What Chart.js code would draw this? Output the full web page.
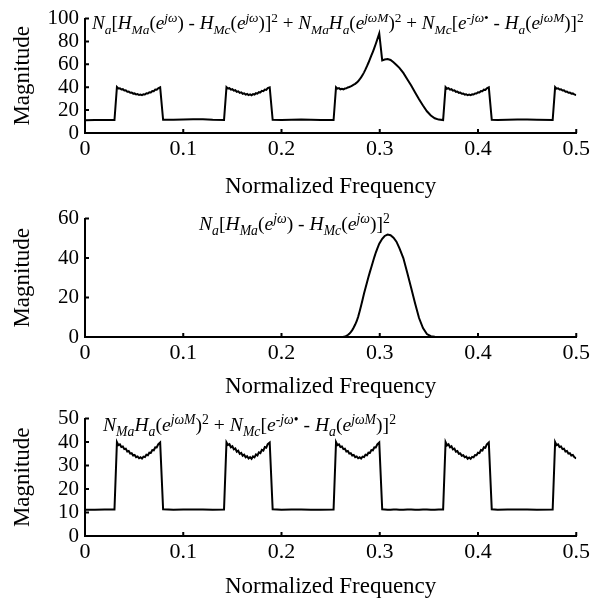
<!DOCTYPE html>
<html>
<head>
<meta charset="utf-8">
<script src="https://cdn.jsdelivr.net/npm/chart.js@4.4.1/dist/chart.umd.min.js"></script>
<style>
  html, body { margin: 0; padding: 0; background: #fff; }
  #wrap { position: relative; width: 593px; height: 601px; overflow: hidden; }
  #wrap canvas { position: absolute; left: 0; }
  .eq { position: absolute; font-family: 'Liberation Serif', 'Times New Roman', serif; font-size: 19.6px;
        color: #000; white-space: nowrap; line-height: 1; }
  #eq1 { font-size: 19.1px; }
  .eq sub, .eq sup { font-size: 70%; line-height: 0; position: relative; vertical-align: baseline; }
  .eq sub { top: 0.38em; }
  .eq sup { top: -0.5em; }
</style>
</head>
<body>
<div id="wrap">
  <canvas id="c1" width="593" height="201" style="top:0px"></canvas>
  <canvas id="c2" width="593" height="201" style="top:200px"></canvas>
  <canvas id="c3" width="593" height="201" style="top:400px"></canvas>

  <div class="eq" id="eq1" style="left:92px; top:13px;"><i>N</i><sub><i>a</i></sub>[<i>H</i><sub><i>Ma</i></sub>(<i>e</i><sup><i>jω</i></sup>) - <i>H</i><sub><i>Mc</i></sub>(<i>e</i><sup><i>jω</i></sup>)]<sup>2</sup> + <i>N</i><sub><i>Ma</i></sub><i>H</i><sub><i>a</i></sub>(<i>e</i><sup><i>jωM</i></sup>)<sup>2</sup> + <i>N</i><sub><i>Mc</i></sub>[<i>e</i><sup><i>-jω</i>•</sup> - <i>H</i><sub><i>a</i></sub>(<i>e</i><sup><i>jωM</i></sup>)]<sup>2</sup></div>
  <div class="eq" id="eq2" style="left:199px; top:214px;"><i>N</i><sub><i>a</i></sub>[<i>H</i><sub><i>Ma</i></sub>(<i>e</i><sup><i>jω</i></sup>) - <i>H</i><sub><i>Mc</i></sub>(<i>e</i><sup><i>jω</i></sup>)]<sup>2</sup></div>
  <div class="eq" id="eq3" style="left:103px; top:415px;"><i>N</i><sub><i>Ma</i></sub><i>H</i><sub><i>a</i></sub>(<i>e</i><sup><i>jωM</i></sup>)<sup>2</sup> + <i>N</i><sub><i>Mc</i></sub>[<i>e</i><sup><i>-jω</i>•</sup> - <i>H</i><sub><i>a</i></sub>(<i>e</i><sup><i>jωM</i></sup>)]<sup>2</sup></div>
</div>

<script>
// normalized frequency grid shared by the top and bottom panels
const freq = [
  0, 0.010, 0.020, 0.030,
  0.0325, 0.034, 0.0355, 0.037, 0.0385, 0.040, 0.0415, 0.043, 0.0445, 0.046, 0.0475, 0.049, 0.0505, 0.052, 0.0535, 0.055, 0.0565, 0.058, 0.0595, 0.061, 0.0625, 0.064, 0.0655, 0.067, 0.0685, 0.070, 0.0715, 0.073, 0.0745, 0.0765, 0.0795,
  0.090, 0.100, 0.110, 0.120, 0.130, 0.1415,
  0.144, 0.1455, 0.147, 0.1485, 0.150, 0.1515, 0.153, 0.1545, 0.156, 0.1575, 0.159, 0.1605, 0.162, 0.1635, 0.165, 0.1665, 0.168, 0.1695, 0.171, 0.1725, 0.174, 0.1755, 0.177, 0.1785, 0.180, 0.1815, 0.183, 0.1845, 0.186, 0.188, 0.191,
  0.200, 0.210, 0.220, 0.230, 0.240, 0.253,
  0.2555, 0.257, 0.2585, 0.260, 0.2615, 0.263, 0.2645, 0.266, 0.2675, 0.269, 0.2705, 0.272, 0.2735, 0.275, 0.2765, 0.278, 0.2795, 0.281, 0.2825, 0.284, 0.2855, 0.287, 0.2885, 0.290, 0.2915, 0.293, 0.2945, 0.296, 0.2975, 0.2995, 0.3025,
  0.305, 0.308, 0.311, 0.314, 0.317, 0.320, 0.324, 0.328, 0.332, 0.336, 0.340, 0.344, 0.348, 0.352, 0.356, 0.360, 0.3645,
  0.367, 0.3685, 0.370, 0.3715, 0.373, 0.3745, 0.376, 0.3775, 0.379, 0.3805, 0.382, 0.3835, 0.385, 0.3865, 0.388, 0.3895, 0.391, 0.3925, 0.394, 0.3955, 0.397, 0.3985, 0.400, 0.4015, 0.403, 0.4045, 0.406, 0.4075, 0.409, 0.411, 0.414,
  0.420, 0.430, 0.440, 0.450, 0.460, 0.476,
  0.4785, 0.480, 0.4815, 0.483, 0.4845, 0.486, 0.4875, 0.489, 0.4905, 0.492, 0.4935, 0.495, 0.4965, 0.498, 0.500
];

// top panel: total error
const magTotal = [
  11.2, 11.3, 11.3, 11.4,
  40.2, 38.9, 39.1, 38.0, 38.3, 37.1, 37.3, 36.1, 36.3, 35.2, 35.4, 34.4, 34.6, 33.7, 34.0, 33.2, 33.6, 33.1, 33.9, 33.7, 34.7, 34.5, 35.6, 35.5, 36.7, 36.6, 37.9, 37.8, 39.1, 39.9, 11.5,
  11.5, 11.8, 12.1, 12.0, 11.6, 11.4,
  40.1, 38.9, 39.2, 37.9, 38.3, 37.0, 37.4, 36.0, 36.4, 35.1, 35.5, 34.3, 34.7, 33.6, 34.1, 33.1, 33.7, 33.0, 34.0, 33.6, 34.8, 34.4, 35.7, 35.4, 36.8, 36.5, 38.0, 37.7, 39.2, 39.9, 11.5,
  11.4, 11.5, 11.7, 11.6, 11.4, 11.4,
  40.0, 38.8, 39.2, 38.2, 38.6, 38.2, 38.9, 39.0, 39.8, 40.2, 40.8, 41.5, 42.2, 43.0, 44.0, 45.2, 46.8, 48.6, 50.6, 53.0, 55.6, 58.4, 61.4, 64.6, 67.8, 71.0, 74.4, 78.0, 81.8, 87.0, 63.5,
  64.3, 64.6, 63.8, 61.8, 59.5, 57.0, 52.5, 47.0, 41.5, 35.5, 29.5, 24.0, 19.0, 15.3, 12.9, 11.7, 11.3,
  40.1, 38.7, 39.2, 37.9, 38.3, 37.0, 37.3, 36.0, 36.3, 35.1, 35.3, 34.3, 34.5, 33.6, 33.9, 33.0, 33.5, 33.0, 33.8, 33.6, 34.6, 34.5, 35.6, 35.4, 36.7, 36.5, 37.9, 37.7, 39.1, 39.9, 11.5,
  11.4, 11.6, 11.8, 11.7, 11.5, 11.4,
  40.1, 38.8, 39.1, 38.0, 38.2, 37.1, 37.3, 36.1, 36.3, 35.2, 35.4, 34.4, 34.6, 33.7, 33.1
];

// bottom panel: image terms
const magImage = [
  11.2, 11.2, 11.3, 11.3,
  40.0, 38.7, 39.0, 37.9, 38.1, 37.0, 37.2, 36.0, 36.2, 35.1, 35.3, 34.3, 34.5, 33.6, 33.9, 33.1, 33.5, 33.0, 33.8, 33.6, 34.6, 34.4, 35.5, 35.4, 36.6, 36.5, 37.8, 37.7, 39.0, 39.8, 11.4,
  11.2, 11.3, 11.3, 11.3, 11.2, 11.3,
  39.9, 38.8, 39.1, 37.8, 38.2, 36.9, 37.3, 35.9, 36.3, 35.0, 35.4, 34.2, 34.6, 33.5, 34.0, 33.0, 33.6, 32.9, 33.9, 33.5, 34.7, 34.3, 35.6, 35.3, 36.7, 36.4, 37.9, 37.6, 39.1, 39.8, 11.4,
  11.2, 11.3, 11.3, 11.2, 11.2, 11.3,
  40.0, 38.7, 39.0, 37.9, 38.1, 37.0, 37.2, 36.0, 36.2, 35.1, 35.3, 34.3, 34.5, 33.6, 33.9, 33.1, 33.5, 33.0, 33.8, 33.6, 34.6, 34.4, 35.5, 35.4, 36.6, 36.5, 37.8, 37.7, 39.0, 39.8, 11.4,
  11.3, 11.2, 11.2, 11.3, 11.3, 11.2, 11.2, 11.3, 11.3, 11.2, 11.2, 11.3, 11.3, 11.2, 11.2, 11.3, 11.3,
  40.0, 38.6, 39.1, 37.8, 38.2, 36.9, 37.2, 35.9, 36.2, 35.0, 35.2, 34.2, 34.4, 33.5, 33.8, 32.9, 33.4, 32.9, 33.7, 33.5, 34.5, 34.4, 35.5, 35.3, 36.6, 36.4, 37.8, 37.6, 39.0, 39.8, 11.4,
  11.2, 11.3, 11.3, 11.3, 11.2, 11.3,
  40.0, 38.7, 39.0, 37.9, 38.1, 37.0, 37.2, 36.0, 36.2, 35.1, 35.3, 34.3, 34.5, 33.6, 33.0
];

// middle panel: mismatch term (own grid)
const freqBell = [
  0, 0.100, 0.200, 0.2585, 0.260, 0.2615, 0.263, 0.2645, 0.266, 0.2675, 0.269, 0.2705, 0.272, 0.2735, 0.275, 0.2765, 0.278, 0.2795, 0.281, 0.2825, 0.284, 0.2855, 0.287, 0.2885, 0.290, 0.2915, 0.293, 0.2945, 0.296, 0.2975, 0.2995, 0.3025,
  0.305, 0.308, 0.311, 0.314, 0.317, 0.320, 0.324, 0.328, 0.332, 0.336, 0.340, 0.344, 0.348, 0.352, 0.356, 0.360, 0.400, 0.500
];
const magMismatch = [
  0, 0, 0, 0, 0, 0.05, 0.15, 0.3, 0.6, 1.0, 1.6, 2.5, 3.5, 4.8, 6.3, 8.0, 10.2, 12.9, 15.8, 18.9, 22.0, 24.8, 27.6, 30.4, 33.0, 35.5, 38.0, 40.5, 42.8, 44.8, 47.3, 49.8,
  51.2, 51.9, 51.6, 50.3, 48.3, 45.0, 40.0, 32.5, 24.8, 17.0, 9.6, 4.5, 1.5, 0.4, 0.1, 0, 0, 0
];

const xTickLabels = ['0', '0.1', '0.2', '0.3', '0.4', '0.5'];
const xTitle = 'Normalized Frequency';
const yTitle = 'Magnitude';

const FONT = "'Liberation Serif', 'Times New Roman', serif";
Chart.defaults.font.family = FONT;
Chart.defaults.color = '#000';

// inward tick marks like the original plot
const inwardTicks = {
  id: 'inwardTicks',
  afterDraw(chart) {
    const {ctx, chartArea: a, scales: {x, y}} = chart;
    ctx.save();
    ctx.strokeStyle = '#000';
    ctx.lineWidth = 2;
    ctx.beginPath();
    x.ticks.forEach(t => {
      const px = x.getPixelForValue(t.value);
      ctx.moveTo(px, a.bottom);
      ctx.lineTo(px, a.bottom - 4);
    });
    y.ticks.forEach(t => {
      const py = y.getPixelForValue(t.value);
      ctx.moveTo(a.left, py);
      ctx.lineTo(a.left + 4, py);
    });
    ctx.stroke();
    ctx.restore();
  }
};

const panels = [
  {id: 'c1', top: 0,   chartTop: 13,  chartBottom: 133, yMax: 100, yStep: 20, xs: freq,     ys: magTotal},
  {id: 'c2', top: 200, chartTop: 215, chartBottom: 337, yMax: 60,  yStep: 20, xs: freqBell, ys: magMismatch},
  {id: 'c3', top: 400, chartTop: 415, chartBottom: 536, yMax: 50,  yStep: 10, xs: freq,     ys: magImage}
];

panels.forEach(p => {
  new Chart(document.getElementById(p.id), {
    type: 'line',
    data: {
      datasets: [{
        data: p.xs.map((f, i) => ({x: f, y: p.ys[i]})),
        borderColor: '#000',
        borderWidth: 2,
        pointRadius: 0,
        tension: 0,
        fill: false
      }]
    },
    options: {
      responsive: false,
      animation: false,
      devicePixelRatio: 1,
      layout: {padding: {top: p.chartTop - p.top, right: 15, left: 0, bottom: 0}},
      plugins: {legend: {display: false}, tooltip: {enabled: false}},
      scales: {
        x: {
          type: 'linear', min: 0, max: 0.5,
          afterFit: s => { s.height = p.top + 201 - p.chartBottom; },
          grid: {display: false, drawTicks: false},
          border: {display: true, color: '#000', width: 2},
          ticks: {stepSize: 0.1, font: {size: 22}, padding: 3, maxRotation: 0, autoSkip: false,
                  callback: (v, i) => xTickLabels[i]},
          title: {display: true, text: xTitle, font: {size: 23}, padding: {top: 0, bottom: 0}}
        },
        y: {
          min: 0, max: p.yMax,
          afterFit: s => { s.width = 85; },
          grid: {display: false, drawTicks: false},
          border: {display: true, color: '#000', width: 2},
          ticks: {stepSize: p.yStep, font: {size: 21}, padding: 6, autoSkip: false},
          title: {display: true, text: yTitle, font: {size: 23}, padding: {top: 9, bottom: 0}}
        }
      }
    },
    plugins: [inwardTicks]
  });
});
</script>
</body>
</html>
